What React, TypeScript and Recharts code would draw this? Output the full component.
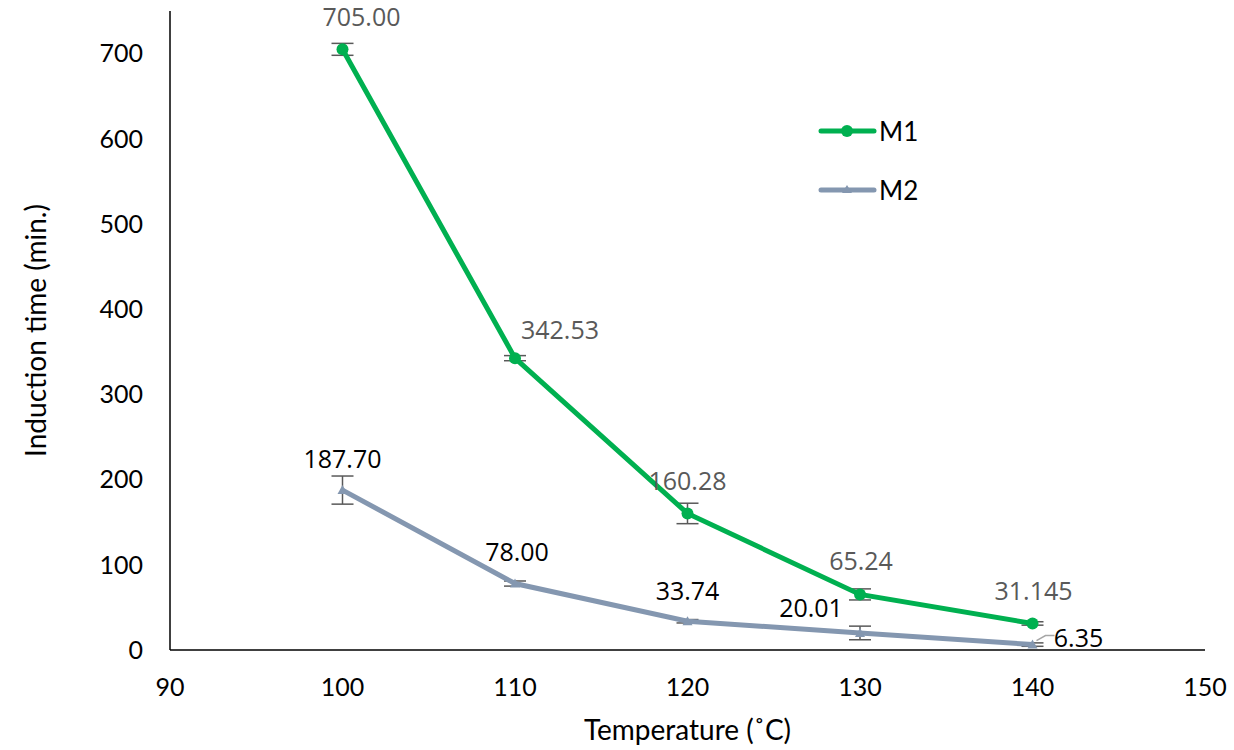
import {
  ErrorBar,
  LabelList,
  Line,
  LineChart,
  XAxis,
  YAxis,
} from 'recharts';

// Induction time vs. temperature for two samples, with error bars.
const TEMPERATURES = [100, 110, 120, 130, 140];
const M1_VALUES = [705.0, 342.53, 160.28, 65.24, 31.145];
const M1_ERRORS = [7, 3, 12, 6.5, 2];
const M2_VALUES = [187.7, 78.0, 33.74, 20.01, 6.35];
const M2_ERRORS = [16.5, 3, 2, 8, 2];
const M1_LABELS = ['705.00', '342.53', '160.28', '65.24', '31.145'];
const M2_LABELS = ['187.70', '78.00', '33.74', '20.01', '6.35'];
const X_TICKS = [90, 100, 110, 120, 130, 140, 150];
const Y_TICKS = [0, 100, 200, 300, 400, 500, 600, 700];

// label placement relative to each point (dx, dy of text centre)
const M1_LABEL_OFFSETS = [[19, -33], [45, -29], [0, -33], [1, -34], [1, -33]];
const M2_LABEL_OFFSETS = [[0, -32], [2, -33], [0, -31], [-49, -26], [46, -8]];

const GREEN = '#00B050';
const SLATE = '#8497B0';
const TICK_FONT = 'Lato, "Open Sans", sans-serif';
const LABEL_FONT = '"Open Sans", Lato, sans-serif';

const data = TEMPERATURES.map((t, i) => ({
  temp: t,
  m1: M1_VALUES[i],
  m1Err: M1_ERRORS[i],
  m2: M2_VALUES[i],
  m2Err: M2_ERRORS[i],
}));

function makeLabel(labels: string[], offsets: number[][], color: string, leaderIdx?: number) {
  return (props: any) => {
    const { x, y, index } = props;
    const [dx, dy] = offsets[index];
    return (
      <g>
        {leaderIdx === index && (
          <polyline
            points={`${x + 4},${y - 4} ${x + 13},${y - 9} ${x + 22},${y - 9}`}
            fill="none"
            stroke="#a6a6a6"
            strokeWidth={1.5}
          />
        )}
        <text
          x={x + dx}
          y={y + dy}
          textAnchor="middle"
          dominantBaseline="central"
          fontFamily={LABEL_FONT}
          fontSize={25}
          fill={color}
        >
          {labels[index]}
        </text>
      </g>
    );
  };
}

function TriangleDot(props: any) {
  const { cx, cy } = props;
  if (cx == null || cy == null) return null;
  return <path d={`M${cx},${cy - 5} L${cx + 5},${cy + 4} L${cx - 5},${cy + 4} Z`} fill={SLATE} />;
}

function LegendBox() {
  const rows = [
    { name: 'M1', color: GREEN, tri: false },
    { name: 'M2', color: SLATE, tri: true },
  ];
  return (
    <svg width={120} height={100} style={{ position: 'absolute', left: 818, top: 115 }}>
      {rows.map((r, i) => {
        const y = 16 + i * 59;
        return (
          <g key={r.name}>
            <line x1={3} y1={y} x2={56} y2={y} stroke={r.color} strokeWidth={5} strokeLinecap="round" />
            {r.tri ? (
              <path d={`M29,${y - 5} L34,${y + 3} L24,${y + 3} Z`} fill={r.color} />
            ) : (
              <circle cx={29} cy={y} r={6} fill={r.color} />
            )}
            <text x={61} y={y} dominantBaseline="central" fontFamily={TICK_FONT} fontSize={26} fill="#000">
              {r.name}
            </text>
          </g>
        );
      })}
    </svg>
  );
}

export default function App() {
  return (
    <div style={{ position: 'absolute', left: 0, top: 0, width: 1234, height: 750, background: '#fff' }}>
      <LineChart width={1234} height={750} data={data} margin={{ top: 11, right: 29, bottom: 0, left: 0 }}>
        <XAxis
          dataKey="temp"
          type="number"
          domain={[90, 150]}
          ticks={X_TICKS}
          tickLine={false}
          tickSize={0}
          tickMargin={28}
          height={100}
          axisLine={{ stroke: '#000', strokeWidth: 1.5 }}
          tick={{ fill: '#000', fontSize: 25, fontFamily: TICK_FONT }}
          label={{
            value: 'Temperature (˚C)',
            position: 'insideBottom',
            offset: 10,
            fill: '#000',
            fontSize: 28,
            fontFamily: TICK_FONT,
          }}
        />
        <YAxis
          type="number"
          domain={[0, 750]}
          ticks={Y_TICKS}
          tickLine={false}
          tickSize={0}
          tickMargin={27}
          width={170}
          axisLine={{ stroke: '#000', strokeWidth: 1.5 }}
          tick={{ fill: '#000', fontSize: 25, fontFamily: TICK_FONT }}
          label={{
            value: 'Induction time (min.)',
            angle: -90,
            position: 'insideLeft',
            offset: 36,
            style: { textAnchor: 'middle' },
            fill: '#000',
            fontSize: 28,
            fontFamily: TICK_FONT,
          }}
        />
        <Line
          dataKey="m1"
          name="M1"
          stroke={GREEN}
          strokeWidth={5}
          dot={{ r: 6, fill: GREEN, stroke: GREEN, strokeWidth: 0 }}
          isAnimationActive={false}
        >
          <ErrorBar dataKey="m1Err" direction="y" width={11} stroke="#595959" strokeWidth={1.5} />
          <LabelList dataKey="m1" content={makeLabel(M1_LABELS, M1_LABEL_OFFSETS, '#595959')} />
        </Line>
        <Line
          dataKey="m2"
          name="M2"
          stroke={SLATE}
          strokeWidth={5}
          dot={<TriangleDot />}
          isAnimationActive={false}
        >
          <ErrorBar dataKey="m2Err" direction="y" width={11} stroke="#595959" strokeWidth={1.5} />
          <LabelList dataKey="m2" content={makeLabel(M2_LABELS, M2_LABEL_OFFSETS, '#000', 4)} />
        </Line>
      </LineChart>
      <LegendBox />
    </div>
  );
}
